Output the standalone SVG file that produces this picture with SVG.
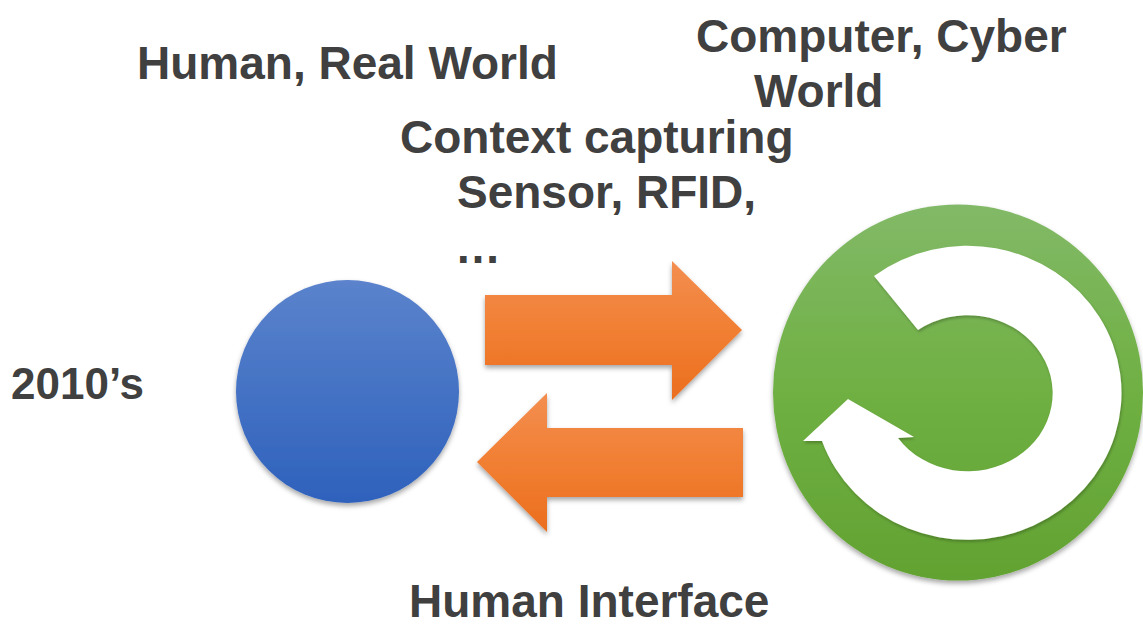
<svg xmlns="http://www.w3.org/2000/svg" width="1143" height="628" viewBox="0 0 1143 628">
  <defs>
    <linearGradient id="gBlue" x1="0" y1="0" x2="0" y2="1">
      <stop offset="0" stop-color="#5b83cc"/>
      <stop offset="1" stop-color="#2e61bc"/>
    </linearGradient>
    <linearGradient id="gOrange" x1="0" y1="0" x2="0" y2="1">
      <stop offset="0" stop-color="#f38e50"/>
      <stop offset="0.5" stop-color="#f17f33"/>
      <stop offset="1" stop-color="#eb6e1e"/>
    </linearGradient>
    <linearGradient id="gGreen" x1="0" y1="0" x2="0" y2="1">
      <stop offset="0" stop-color="#82b967"/>
      <stop offset="0.5" stop-color="#6fb043"/>
      <stop offset="1" stop-color="#62a232"/>
    </linearGradient>
    <filter id="shadow" x="-10%" y="-10%" width="120%" height="125%">
      <feDropShadow dx="0" dy="3" stdDeviation="2.5" flood-color="#000" flood-opacity="0.35"/>
    </filter>
    <filter id="shadowSoft" x="-10%" y="-10%" width="120%" height="125%">
      <feDropShadow dx="1" dy="2" stdDeviation="1.5" flood-color="#000" flood-opacity="0.25"/>
    </filter>
  </defs>
  <style>
    .lbl { font-family: "Liberation Sans", Arial, sans-serif; font-weight: bold; font-size: 46px; fill: #404040; }
  </style>
  <rect width="1143" height="628" fill="#ffffff"/>

  <g id="human-node">
    <circle cx="347.5" cy="391.5" r="111.5" fill="url(#gBlue)" filter="url(#shadow)"/>
  </g>

  <g id="computer-node">
    <ellipse cx="958" cy="392.5" rx="185" ry="188" fill="url(#gGreen)" filter="url(#shadow)"/>
    <path d="M874,276 A154,147 0 1 1 822,441 L803,441 L848,399 L914,437 L898,438 A85,78 0 1 0 918,330 Z" fill="#ffffff" filter="url(#shadowSoft)"/>
  </g>

  <g id="connectors">
    <path id="arrow-capture" d="M485,295 L672,295 L672,261 L742,330 L672,400 L672,365 L485,365 Z" fill="url(#gOrange)" filter="url(#shadow)"/>
    <path id="arrow-interface" d="M743,428 L547,428 L547,393 L477,462 L547,532 L547,497 L743,497 Z" fill="url(#gOrange)" filter="url(#shadow)"/>
  </g>

  <g id="labels">
    <text class="lbl" x="137" y="79">Human, Real World</text>
    <text class="lbl" x="696" y="52">Computer, Cyber</text>
    <text class="lbl" x="754" y="107">World</text>
    <text class="lbl" x="400" y="153">Context capturing</text>
    <text class="lbl" x="457" y="208">Sensor, RFID,</text>
    <text class="lbl" x="455" y="263">…</text>
    <text class="lbl" x="11" y="399" style="font-size:44px">2010’s</text>
    <text class="lbl" x="409" y="617">Human Interface</text>
  </g>
</svg>
